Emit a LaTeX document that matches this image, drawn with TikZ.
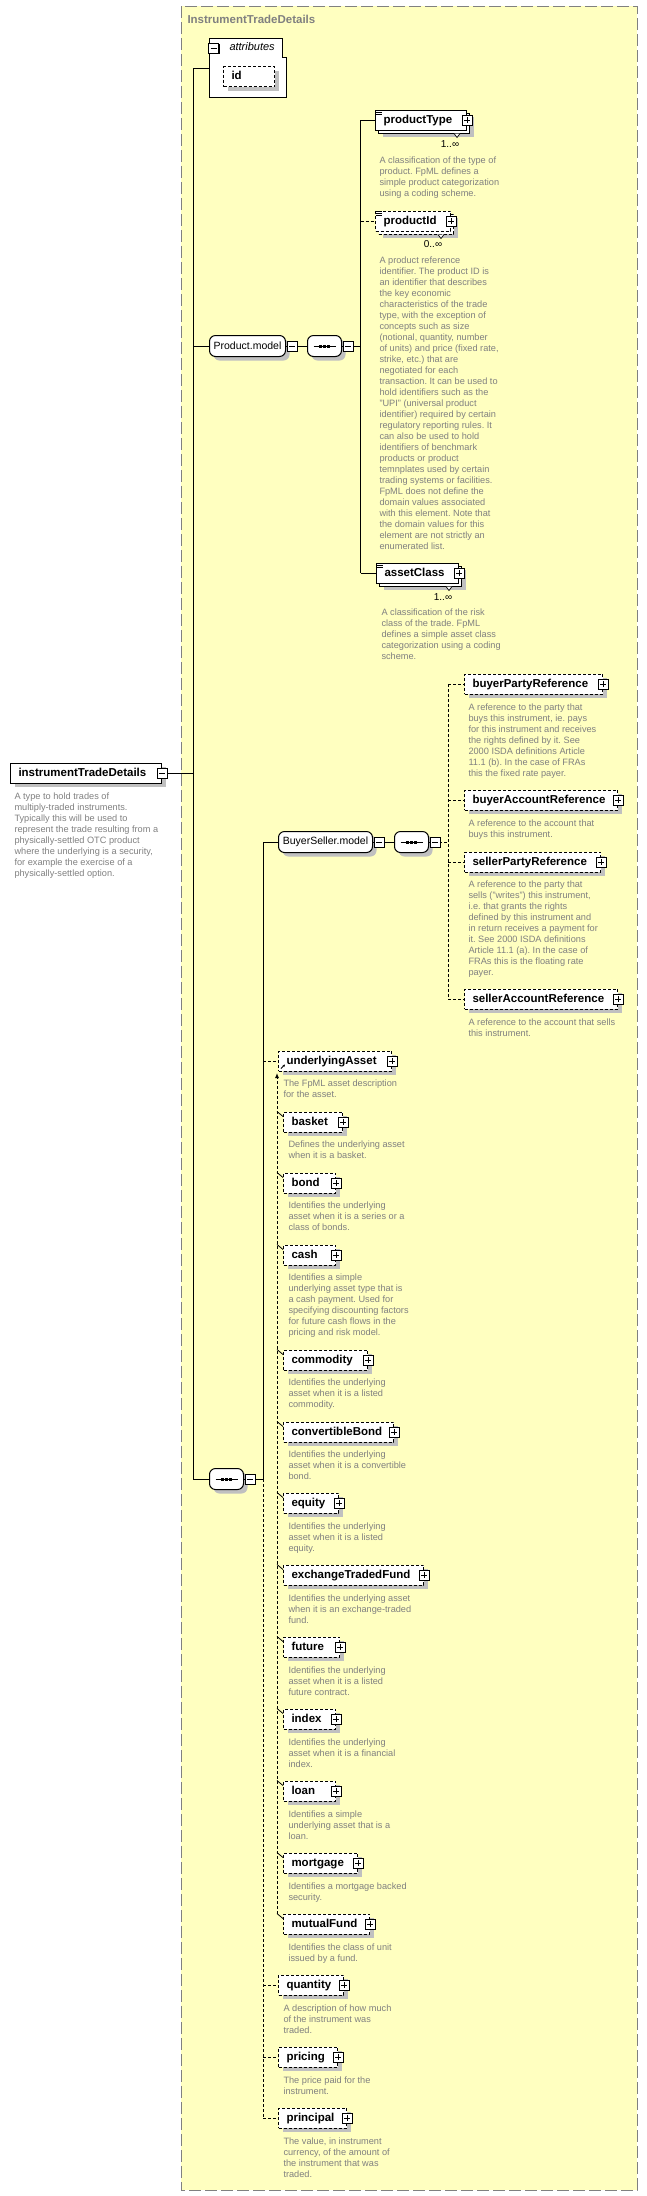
\documentclass[tikz,border=0pt]{standalone}
\usepackage{fontspec}
\setmainfont{Liberation Sans}
\usetikzlibrary{shadows, arrows.meta}

\definecolor{frameyellow}{HTML}{FFFFC0}
\definecolor{shadowgray}{HTML}{C0C0C0}
\definecolor{descgray}{HTML}{808080}

\tikzset{
  pics/plusbtn/.style={code={
      \fill (-4,-4) rectangle (6,6);
      \draw[fill=white] (-5,-5) rectangle (5,5);
      \draw (-3,0) -- (3,0) (0,-3) -- (0,3);
    }},
  pics/minusbtn/.style={code={
      \fill (-4,-4) rectangle (6,6);
      \draw[fill=white] (-5,-5) rectangle (5,5);
      \draw (-3,0) -- (3,0);
    }},
}

\begin{document}
\frenchspacing
\begin{tikzpicture}[x=1pt, y=-1pt, line width=1pt,
    box/.style={draw, fill=white, anchor=west, align=left, minimum height=20pt,
      inner xsep=8pt, inner ysep=0pt, text height=8.5pt, text depth=2.5pt,
      font=\fontsize{11.5}{13}\selectfont\bfseries},
    optline/.style={dash pattern=on 3pt off 2pt},
    shad/.style={drop shadow={shadow scale=1, shadow xshift=4pt, shadow yshift=-4pt,
        fill=shadowgray, opacity=1}},
    multi/.style={
      general shadow={shadow scale=1, shadow xshift=7pt, shadow yshift=-7pt, fill=shadowgray},
      general shadow={shadow scale=1, shadow xshift=3pt, shadow yshift=-3pt, fill=white, draw=black}},
    req/.style={box, shad},
    opt/.style={box, optline, shad},
    reqm/.style={box, multi},
    optm/.style={box, optline, multi},
    model/.style={draw, fill=white, rounded corners=6pt, minimum height=21pt,
      inner sep=0pt, anchor=west, font=\fontsize{10.5}{12}\selectfont, shad},
    mult/.style={inner sep=0pt, font=\fontsize{10}{12}\selectfont},
    descr/.style={anchor=north west, inner sep=0pt, align=left, text=descgray,
      font=\fontsize{9.2}{11}\selectfont},
  ]
  \useasboundingbox (0,0) rectangle (647,2196);

  % type frame
  \draw[draw=descgray, dash pattern=on 12pt off 4pt, fill=frameyellow] (181,6) rectangle (637,2190);
  \node[anchor=west, inner sep=0pt, text=descgray, font=\fontsize{11.5}{13}\selectfont\bfseries]
    (title) at (187,19) {InstrumentTradeDetails};

  % root element
  \node[req, text width=135pt] (root) at (10,773) {instrumentTradeDetails};
  \node[descr] (d-root) at (14,792) {A type to hold trades of\\
    multiply-traded instruments.\\
    Typically this will be used to\\
    represent the trade resulting from a\\
    physically-settled OTC product\\
    where the underlying is a security,\\
    for example the exercise of a\\
    physically-settled option.};

  % attributes
  \draw[fill=white] (209,38) -- (282,38) -- (282,57) -- (286,57) -- (286,97) -- (209,97) -- cycle;
  \coordinate (attr) at (209,68);
  \coordinate (mspine) at (193,68);
  \node[anchor=west, inner sep=0pt, font=\fontsize{11}{13}\selectfont\itshape]
    (attrlbl) at (229,47) {attributes};
  \node[opt, text width=35pt] (id) at (223,76.5) {id};

  % Product.model
  \node[model, minimum width=76pt] (pmodel) at (209,346) {Product.model};
  \node[model, minimum width=34pt] (pseq) at (307,346) {};
  \coordinate (pspine) at (360.5,120);
  \node[reqm, text width=75pt] (ptype) at (375,120) {productType};
  \node[mult] (m-ptype) at (450,144) {1..∞};
  \node[descr] (d-ptype) at (379,156) {A classification of the type of\\
    product. FpML defines a\\
    simple product categorization\\
    using a coding scheme.};
  \node[optm, text width=59pt] (pid) at (375,221) {productId};
  \node[mult] (m-pid) at (433,244) {0..∞};
  \node[descr] (d-pid) at (379,256) {A product reference\\
    identifier. The product ID is\\
    an identifier that describes\\
    the key economic\\
    characteristics of the trade\\
    type, with the exception of\\
    concepts such as size\\
    (notional, quantity, number\\
    of units) and price (fixed rate,\\
    strike, etc.) that are\\
    negotiated for each\\
    transaction. It can be used to\\
    hold identifiers such as the\\
    "UPI" (universal product\\
    identifier) required by certain\\
    regulatory reporting rules. It\\
    can also be used to hold\\
    identifiers of benchmark\\
    products or product\\
    temnplates used by certain\\
    trading systems or facilities.\\
    FpML does not define the\\
    domain values associated\\
    with this element. Note that\\
    the domain values for this\\
    element are not strictly an\\
    enumerated list.};
  \node[reqm, text width=66pt] (aclass) at (376,573) {assetClass};
  \node[mult] (m-aclass) at (443,597) {1..∞};
  \node[descr] (d-aclass) at (381,608) {A classification of the risk\\
    class of the trade. FpML\\
    defines a simple asset class\\
    categorization using a coding\\
    scheme.};

  % BuyerSeller.model
  \coordinate (sspine) at (263,842);
  \node[model, minimum width=94pt] (bsmodel) at (278,842) {BuyerSeller.model};
  \node[model, minimum width=34pt] (bsseq) at (394,842) {};
  \coordinate (bspine) at (448,684);
  \node[opt, text width=122pt] (bpr) at (464,684) {buyerPartyReference};
  \node[descr] (d-bpr) at (468,703) {A reference to the party that\\
    buys this instrument, ie. pays\\
    for this instrument and receives\\
    the rights defined by it. See\\
    2000 ISDA definitions Article\\
    11.1 (b). In the case of FRAs\\
    this the fixed rate payer.};
  \node[opt, text width=137pt] (bar) at (464,800) {buyerAccountReference};
  \node[descr] (d-bar) at (468,819) {A reference to the account that\\
    buys this instrument.};
  \node[opt, text width=120pt] (spr) at (464,862) {sellerPartyReference};
  \node[descr] (d-spr) at (468,880) {A reference to the party that\\
    sells ("writes") this instrument,\\
    i.e. that grants the rights\\
    defined by this instrument and\\
    in return receives a payment for\\
    it. See 2000 ISDA definitions\\
    Article 11.1 (a). In the case of\\
    FRAs this is the floating rate\\
    payer.};
  \node[opt, text width=137pt] (sar) at (464,999) {sellerAccountReference};
  \node[descr] (d-sar) at (468,1018) {A reference to the account that sells\\
    this instrument.};

  % main sequence
  \node[model, minimum width=34pt] (mseq) at (209,1479) {};

  % underlyingAsset and its substitution group
  \node[opt, text width=97pt] (uasset) at (278,1061) {underlyingAsset};
  \node[descr] (d-uasset) at (283,1079) {The FpML asset description\\
    for the asset.};
  \coordinate (gspine) at (277,1073);
  \foreach \n/\w/\y in {basket/43/1122, bond/36/1183, cash/36/1255, commodity/68/1360,
      convertibleBond/94/1432, equity/39/1503, exchangeTradedFund/124/1575, future/40/1647,
      index/36/1719, loan/36/1791, mortgage/58/1863, mutualFund/70/1924} {
    \node[opt, text width=\w pt] (\n) at (283,\y) {\n};
    \pic at (\n.east) {plusbtn};
  }
  \node[descr] (d-basket) at (288,1140) {Defines the underlying asset\\
    when it is a basket.};
  \node[descr] (d-bond) at (288,1201) {Identifies the underlying\\
    asset when it is a series or a\\
    class of bonds.};
  \node[descr] (d-cash) at (288,1273) {Identifies a simple\\
    underlying asset type that is\\
    a cash payment. Used for\\
    specifying discounting factors\\
    for future cash flows in the\\
    pricing and risk model.};
  \node[descr] (d-commodity) at (288,1378) {Identifies the underlying\\
    asset when it is a listed\\
    commodity.};
  \node[descr] (d-convertibleBond) at (288,1450) {Identifies the underlying\\
    asset when it is a convertible\\
    bond.};
  \node[descr] (d-equity) at (288,1522) {Identifies the underlying\\
    asset when it is a listed\\
    equity.};
  \node[descr] (d-exchangeTradedFund) at (288,1594) {Identifies the underlying asset\\
    when it is an exchange-traded\\
    fund.};
  \node[descr] (d-future) at (288,1666) {Identifies the underlying\\
    asset when it is a listed\\
    future contract.};
  \node[descr] (d-index) at (288,1738) {Identifies the underlying\\
    asset when it is a financial\\
    index.};
  \node[descr] (d-loan) at (288,1810) {Identifies a simple\\
    underlying asset that is a\\
    loan.};
  \node[descr] (d-mortgage) at (288,1882) {Identifies a mortgage backed\\
    security.};
  \node[descr] (d-mutualFund) at (288,1943) {Identifies the class of unit\\
    issued by a fund.};

  % trailing optional elements
  \node[opt, text width=49pt] (quantity) at (278,1985) {quantity};
  \node[descr] (d-quantity) at (283,2004) {A description of how much\\
    of the instrument was\\
    traded.};
  \node[opt, text width=43pt] (pricing) at (278,2057) {pricing};
  \node[descr] (d-pricing) at (283,2076) {The price paid for the\\
    instrument.};
  \node[opt, text width=52pt] (principal) at (278,2118) {principal};
  \node[descr] (d-principal) at (283,2137) {The value, in instrument\\
    currency, of the amount of\\
    the instrument that was\\
    traded.};

  % connectors
  \draw (mspine) -- (mspine |- mseq.west);
  \draw (mspine) -- (attr);
  \draw (root.east) -- (root.east -| mspine);
  \draw (pmodel.west -| mspine) -- (pmodel.west);
  \draw (mseq.west -| mspine) -- (mseq.west);
  \draw (pmodel.east) -- (pseq.west);
  \draw (pseq.east) -- (pseq.east -| pspine);
  \draw (pspine) -- (pspine |- aclass.west);
  \draw (pspine) -- (ptype.west);
  \draw[optline] (pspine |- pid.west) -- (pid.west);
  \draw (pspine |- aclass.west) -- (aclass.west);
  \draw (mseq.east) -- (mseq.east -| sspine);
  \draw (sspine) -- (sspine |- mseq.east);
  \draw[optline] (sspine |- mseq.east) -- (sspine |- principal.west);
  \draw (sspine) -- (bsmodel.west);
  \foreach \n in {uasset, quantity, pricing, principal}
    \draw[optline] (sspine |- \n.west) -- (\n.west);
  \draw (bsmodel.east) -- (bsseq.west);
  \draw[optline] (bsseq.east) -- (bsseq.east -| bspine);
  \draw[optline] (bspine) -- (bspine |- sar.west);
  \foreach \n in {bpr, bar, spr, sar}
    \draw[optline] (bspine |- \n.west) -- (\n.west);
  \draw[optline, -{Latex[length=5pt, width=4pt]}] (gspine |- mutualFund.north west) -- (gspine);
  \foreach \n in {basket, bond, cash, commodity, convertibleBond, equity,
      exchangeTradedFund, future, index, loan, mortgage, mutualFund}
    \draw[line width=0.8pt] (gspine |- \n.north west) -- ([yshift=-5pt]\n.north west);
  \draw[line width=0.8pt, -{Stealth[length=2.5pt, width=2.5pt]}]
    ([shift={(3,-3)}]uasset.south west) -- ++(4,-4);

  % sequence icons
  \foreach \s in {pseq, bsseq, mseq} {
    \draw ([xshift=-11pt]\s.center) -- ([xshift=11pt]\s.center);
    \foreach \d in {-4,0,4}
      \fill ([xshift=\d pt]\s.center) ++(-1.5,-1.5) rectangle ++(3,3);
  }

  % content icons and multiplicity notches
  \foreach \n in {ptype, pid, aclass} {
    \foreach \k in {1,3,5}
      \draw[line width=0.7pt] ([shift={(1,\k)}]\n.north west) -- ++(6,0);
    \draw[fill=white, line width=0.7pt] ([shift={(-13,3)}]\n.south east) -- ++(3,4) -- ++(3,-4);
  }

  % expand / collapse buttons
  \pic at (root.east) {minusbtn};
  \pic at (213.5,48) {minusbtn};
  \pic at ([xshift=6pt]pmodel.east) {minusbtn};
  \pic at ([xshift=6pt]pseq.east) {minusbtn};
  \pic at ([xshift=6pt]bsmodel.east) {minusbtn};
  \pic at ([xshift=6pt]bsseq.east) {minusbtn};
  \pic at ([xshift=6pt]mseq.east) {minusbtn};
  \foreach \n in {ptype, pid, aclass, bpr, bar, spr, sar, uasset, quantity, pricing, principal}
    \pic at (\n.east) {plusbtn};
\end{tikzpicture}
\end{document}
